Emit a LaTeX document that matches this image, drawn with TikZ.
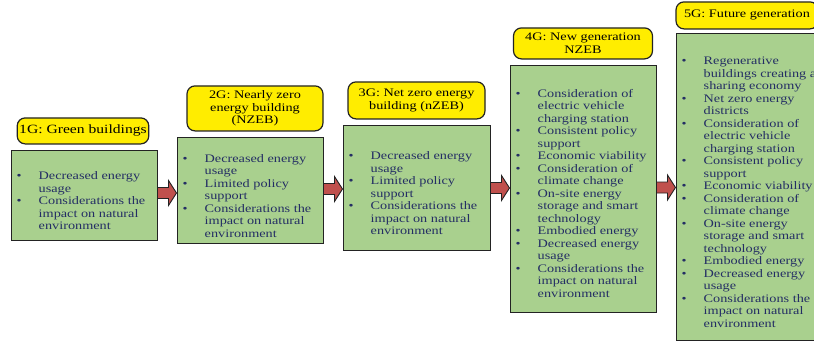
\documentclass[tikz,border=0pt]{standalone}
\usepackage{fontspec}
\newfontfamily\boxfont[FakeStretch=1.24]{Liberation Serif}
\usetikzlibrary{positioning,calc}

\definecolor{boxgreen}{RGB}{169,208,142}
\definecolor{titleyellow}{RGB}{255,237,0}
\definecolor{arrowred}{RGB}{192,80,77}
\definecolor{itemblue}{RGB}{36,46,100}
\definecolor{edgegray}{RGB}{35,35,35}

\newcommand\bul{\strut\makebox[22pt][l]{\textbullet}}
\newcommand\ind{\strut\hspace*{22pt}}

\tikzset{
  genbox/.style={draw=edgegray, line width=1pt, fill=boxgreen, minimum width=146pt, inner sep=0pt},
  gentitle/.style={draw=edgegray, line width=1.2pt, fill=titleyellow, rounded corners=8pt, align=center, inner sep=2pt, font=\boxfont\fontsize{11.5pt}{12.7pt}\selectfont},
  itemtext/.style={anchor=north west, align=left, inner sep=0pt, text=itemblue, font=\boxfont\fontsize{11.5pt}{12.5pt}\selectfont},
  blockarr/.style={draw=edgegray, line width=0.9pt, fill=arrowred, line join=miter}
}

\begin{document}
\begin{tikzpicture}[x=1pt,y=1pt]
\useasboundingbox (0,0) rectangle (814,-341);
\clip (0,0) rectangle (814,-341);

% generation boxes
\node[genbox, minimum height=90pt] (g1) at (84,-195.5) {};
\node[genbox, minimum height=106pt] (g2) at (250,-190.5) {};
\node[genbox, minimum width=147pt, minimum height=125pt] (g3) at (416.5,-187.5) {};
\node[genbox, minimum height=247pt] (g4) at (583,-188.5) {};
\node[genbox, minimum height=307pt] (g5) at (749,-186.5) {};

% titles
\node[gentitle, minimum width=130pt, minimum height=26pt, font=\boxfont\fontsize{12.6pt}{13pt}\selectfont, above=5.5pt of g1, xshift=-1pt] (t1) {1G: Green buildings};
\node[gentitle, minimum width=136pt, minimum height=45pt, above=5.5pt of g2, xshift=5pt] (t2) {2G: Nearly zero\\energy building\\(NZEB)};
\node[gentitle, minimum width=137pt, minimum height=37pt, above=5pt of g3] (t3) {3G: Net zero energy\\building (nZEB)};
\node[gentitle, minimum width=139pt, minimum height=31pt, above=5pt of g4] (t4) {4G: New generation\\NZEB};
\node[gentitle, minimum width=142pt, minimum height=27pt, above=3pt of g5, xshift=-2pt] (t5) {5G: Future generation};

% lists
\node[itemtext, below right=20.75pt and 6pt of g1.north west] (l1) {\bul Decreased energy\\ \ind usage\\ \bul Considerations the\\ \ind impact on natural\\ \ind environment};
\node[itemtext, below right=16.45pt and 6pt of g2.north west] (l2) {\bul Decreased energy\\ \ind usage\\ \bul Limited policy\\ \ind support\\ \bul Considerations the\\ \ind impact on natural\\ \ind environment};
\node[itemtext, below right=26.25pt and 6pt of g3.north west] (l3) {\bul Decreased energy\\ \ind usage\\ \bul Limited policy\\ \ind support\\ \bul Considerations the\\ \ind impact on natural\\ \ind environment};
\node[itemtext, below right=23.95pt and 6pt of g4.north west] (l4) {\bul Consideration of\\ \ind electric vehicle\\ \ind charging station\\ \bul Consistent policy\\ \ind support\\ \bul Economic viability\\ \bul Consideration of\\ \ind climate change\\ \bul On-site energy\\ \ind storage and smart\\ \ind technology\\ \bul Embodied energy\\ \bul Decreased energy\\ \ind usage\\ \bul Considerations the\\ \ind impact on natural\\ \ind environment};
\node[itemtext, below right=23.25pt and 6pt of g5.north west] (l5) {\bul Regenerative\\ \ind buildings creating a\\ \ind sharing economy\\ \bul Net zero energy\\ \ind districts\\ \bul Consideration of\\ \ind electric vehicle\\ \ind charging station\\ \bul Consistent policy\\ \ind support\\ \bul Economic viability\\ \bul Consideration of\\ \ind climate change\\ \bul On-site energy\\ \ind storage and smart\\ \ind technology\\ \bul Embodied energy\\ \bul Decreased energy\\ \ind usage\\ \bul Considerations the\\ \ind impact on natural\\ \ind environment};

% block arrows
\foreach \a/\b in {g1/g2,g2/g3,g3/g4,g4/g5}{
  \coordinate (m) at ($(\a.east)!0.5!(\b.west)$);
  \draw[blockarr] ($(\a.east |- m)+(0,5.5)$) -- ($(\b.west |- m)+(-8,5.5)$) -- ($(\b.west |- m)+(-8,12.5)$) -- (\b.west |- m) -- ($(\b.west |- m)+(-8,-12.5)$) -- ($(\b.west |- m)+(-8,-5.5)$) -- ($(\a.east |- m)+(0,-5.5)$) -- cycle;
}
\end{tikzpicture}
\end{document}
